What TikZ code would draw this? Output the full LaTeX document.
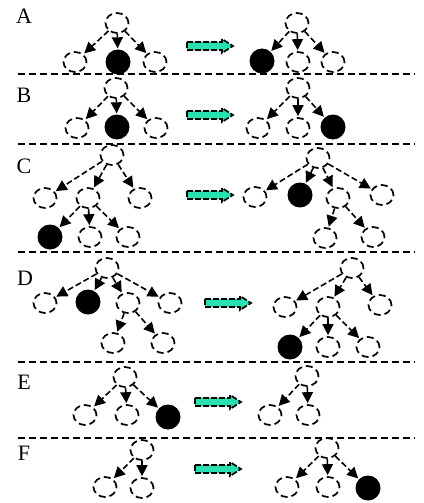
\documentclass[tikz,border=0pt]{standalone}
\usepackage{fontspec}
\setmainfont{Liberation Serif}
\usetikzlibrary{arrows.meta,shapes.geometric}
\definecolor{aqua}{RGB}{40,224,176}
\begin{document}
\begin{tikzpicture}[x=1pt,y=-1pt,
  nd/.style={ellipse,draw,dash pattern=on 7pt off 4pt,line width=1.7pt,minimum width=23pt,minimum height=20pt,inner sep=0pt},
  bk/.style={ellipse,fill=black,minimum width=25pt,minimum height=25pt,inner sep=0pt},
  ar/.style={draw,line width=1.6pt,dash pattern=on 6pt off 3pt,-{Triangle[length=11pt,width=11pt]},shorten >=1pt},
  sep/.style={line width=1.8pt,dash pattern=on 7pt off 4pt},
  lab/.style={font=\fontsize{22}{24}\selectfont,inner sep=0pt},
  garr/.pic={
    \fill[aqua] (0,-4)--(35,-4)--(35,-7)--(46,0)--(35,7)--(35,4)--(0,4)--cycle;
    \draw[line width=1.7pt,dash pattern=on 6pt off 2pt] (0,-4)--(35,-4)--(35,-7)--(46,0)--(35,7)--(35,4)--(0,4)--cycle;}
]
\useasboundingbox (0,0) rectangle (423,503);
% dividers
\foreach \yy/\nm in {74/s1,144/s2,252/s3,362/s4,438/s5}{
  \coordinate (\nm a) at (18,\yy); \coordinate (\nm b) at (415,\yy);
  \draw[sep] (\nm a) -- (\nm b);}
% labels
\node[lab] (la) at (24,16) {A};
\node[lab] (lb) at (24,95) {B};
\node[lab] (lc) at (24,166) {C};
\node[lab] (ld) at (25,278) {D};
\node[lab] (le) at (24,382) {E};
\node[lab] (lf) at (24,453) {F};
% green arrows
\pic at (187,46) {garr};
\pic at (187,115) {garr};
\pic at (187,195) {garr};
\pic at (205,303) {garr};
\pic at (195,402) {garr};
\pic at (195,469) {garr};
% A
\node[nd] (a1) at (117,23) {};
\node[nd] (a2) at (75,62) {};
\node[bk] (a3) at (118,62) {};
\node[nd] (a4) at (155,62) {};
\node[nd] (a5) at (297,23) {};
\node[bk] (a6) at (262,61) {};
\node[nd] (a7) at (298,62) {};
\node[nd] (a8) at (333,62) {};
\foreach \c in {a2,a3,a4}{\draw[ar] (a1) -- (\c);}
\foreach \c in {a6,a7,a8}{\draw[ar] (a5) -- (\c);}
% B
\node[nd] (b1) at (116,88) {};
\node[nd] (b2) at (77,128) {};
\node[bk] (b3) at (117,127) {};
\node[nd] (b4) at (156,128) {};
\node[nd] (b5) at (298,88) {};
\node[nd] (b6) at (258,128) {};
\node[nd] (b7) at (298,128) {};
\node[bk] (b8) at (333,127) {};
\foreach \c in {b2,b3,b4}{\draw[ar] (b1) -- (\c);}
\foreach \c in {b6,b7,b8}{\draw[ar] (b5) -- (\c);}
% C
\node[nd] (c1) at (112,155) {};
\node[nd] (c2) at (45,198) {};
\node[nd] (c3) at (88,198) {};
\node[nd] (c4) at (140,198) {};
\node[bk] (c5) at (50,237) {};
\node[nd] (c6) at (90,237) {};
\node[nd] (c7) at (128,237) {};
\foreach \c in {c2,c3,c4}{\draw[ar] (c1) -- (\c);}
\foreach \c in {c5,c6,c7}{\draw[ar] (c3) -- (\c);}
\node[nd] (c8) at (318,158) {};
\node[nd] (c9) at (255,197) {};
\node[bk] (c10) at (300,195) {};
\node[nd] (c11) at (338,198) {};
\node[nd] (c12) at (382,195) {};
\node[nd] (c13) at (325,238) {};
\node[nd] (c14) at (373,237) {};
\foreach \c in {c9,c10,c11,c12}{\draw[ar] (c8) -- (\c);}
\foreach \c in {c13,c14}{\draw[ar] (c11) -- (\c);}
% D
\node[nd] (d1) at (107,268) {};
\node[nd] (d2) at (45,303) {};
\node[bk] (d3) at (88,302) {};
\node[nd] (d4) at (128,303) {};
\node[nd] (d5) at (170,303) {};
\node[nd] (d6) at (113,343) {};
\node[nd] (d7) at (163,343) {};
\foreach \c in {d2,d3,d4,d5}{\draw[ar] (d1) -- (\c);}
\foreach \c in {d6,d7}{\draw[ar] (d4) -- (\c);}
\node[nd] (d8) at (352,268) {};
\node[nd] (d9) at (285,307) {};
\node[nd] (d10) at (328,307) {};
\node[nd] (d11) at (380,305) {};
\node[bk] (d12) at (290,347) {};
\node[nd] (d13) at (328,347) {};
\node[nd] (d14) at (368,347) {};
\foreach \c in {d9,d10,d11}{\draw[ar] (d8) -- (\c);}
\foreach \c in {d12,d13,d14}{\draw[ar] (d10) -- (\c);}
% E
\node[nd] (e1) at (125,377) {};
\node[nd] (e2) at (85,415) {};
\node[nd] (e3) at (127,415) {};
\node[bk] (e4) at (168,417) {};
\foreach \c in {e2,e3,e4}{\draw[ar] (e1) -- (\c);}
\node[nd] (e5) at (307,376) {};
\node[nd] (e6) at (270,415) {};
\node[nd] (e7) at (308,415) {};
\foreach \c in {e6,e7}{\draw[ar] (e5) -- (\c);}
% F
\node[nd] (f1) at (142,450) {};
\node[nd] (f2) at (105,487) {};
\node[nd] (f3) at (142,488) {};
\foreach \c in {f2,f3}{\draw[ar] (f1) -- (\c);}
\node[nd] (f4) at (327,448) {};
\node[nd] (f5) at (287,487) {};
\node[nd] (f6) at (328,487) {};
\node[bk] (f7) at (368,488) {};
\foreach \c in {f5,f6,f7}{\draw[ar] (f4) -- (\c);}
\end{tikzpicture}
\end{document}
